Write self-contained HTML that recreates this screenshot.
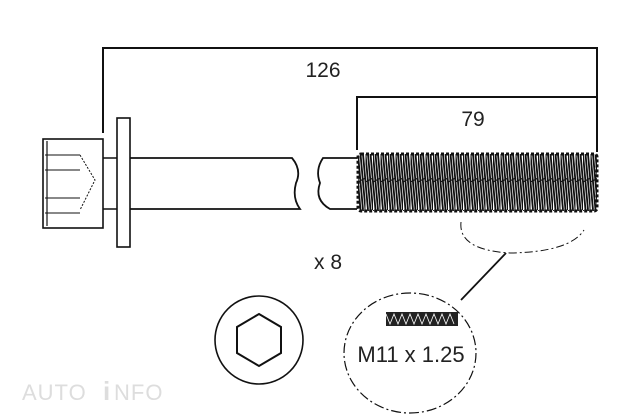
<!DOCTYPE html>
<html><head><meta charset="utf-8"><style>
html,body{margin:0;padding:0;background:#fff;width:640px;height:418px;overflow:hidden}
svg{display:block}
text{font-family:"Liberation Sans",Arial,sans-serif;fill:#222}
</style></head><body>
<svg width="640" height="418" viewBox="0 0 640 418">
<defs>
<pattern id="thr" width="7.5" height="56" patternUnits="userSpaceOnUse" x="358" y="154">
<rect width="7.5" height="56" fill="#fff"/>
<path d="M0,0 L5,56 M2.5,0 L7.5,56 M-2.5,0 L2.5,56 M5,0 L10,56" stroke="#111" stroke-width="1.8"/>
<path d="M0,28 L7.5,24" stroke="#111" stroke-width="1.2"/>
</pattern>
</defs>
<g fill="none" stroke="#111" stroke-width="2">
<path d="M103,133 V48 H597 V152"/>
<path d="M357,150 V97 H597"/>
<rect x="43" y="139" width="60" height="89" stroke-width="1.6"/>
<path d="M47,141 V226" stroke-width="1.2"/>
<path d="M45,155 H80 M45,170 H80 M45,198 H80 M45,213 H80" stroke-width="1"/>
<path d="M80,155 L95,180 L80,210" stroke-width="1" stroke-dasharray="2 1.5"/>
<rect x="117" y="118" width="13" height="129" stroke-width="1.6"/>
<path d="M103,158 H117 M103,209 H117" stroke-width="1.6"/>
<path d="M130,158 H292 Q302,170 296,183 Q292,198 300,209 H130" stroke-width="1.8"/>
<path d="M357,158 H323 Q315,170 320,183 Q314,200 330,209 H357" stroke-width="1.8"/>
<rect x="358" y="154" width="239" height="57" rx="3" fill="url(#thr)" stroke-width="3" stroke-dasharray="3 2"/>
<path d="M461,222 Q458,250 510,253 Q570,252 584,230" stroke-width="1" stroke-dasharray="8 3 2 3"/>
<path d="M506,253 L461,300" stroke-width="1.8"/>
<ellipse cx="410" cy="353" rx="66" ry="60" stroke-width="1.2" stroke-dasharray="10 3 2 3"/>
<circle cx="259" cy="340" r="44" stroke-width="1.6"/>
<polygon points="259,314 281,327 281,353 259,366 237,353 237,327" stroke-width="2"/>
</g>
<rect x="386" y="312" width="72" height="14" fill="#222"/>
<path d="M386,314 l4,10 l4,-10 l4,10 l4,-10 l4,10 l4,-10 l4,10 l4,-10 l4,10 l4,-10 l4,10 l4,-10 l4,10 l4,-10 l4,10 l4,-10 l4,10 " stroke="#fff" stroke-width="0.8" fill="none"/>
<text x="323" y="77" font-size="21" text-anchor="middle">126</text>
<text x="473" y="126" font-size="21" text-anchor="middle">79</text>
<text x="328" y="269" font-size="21" text-anchor="middle">x 8</text>
<text x="411" y="362" font-size="22" text-anchor="middle">M11 x 1.25</text>
<text x="22" y="400" font-size="22" style="fill:#ddd;letter-spacing:1px">AUTO</text>
<text x="103" y="400" font-size="26" font-weight="bold" style="fill:#ddd">i</text>
<text x="114" y="400" font-size="22" style="fill:#ddd;letter-spacing:1px">NFO</text>
</svg>
</body></html>
